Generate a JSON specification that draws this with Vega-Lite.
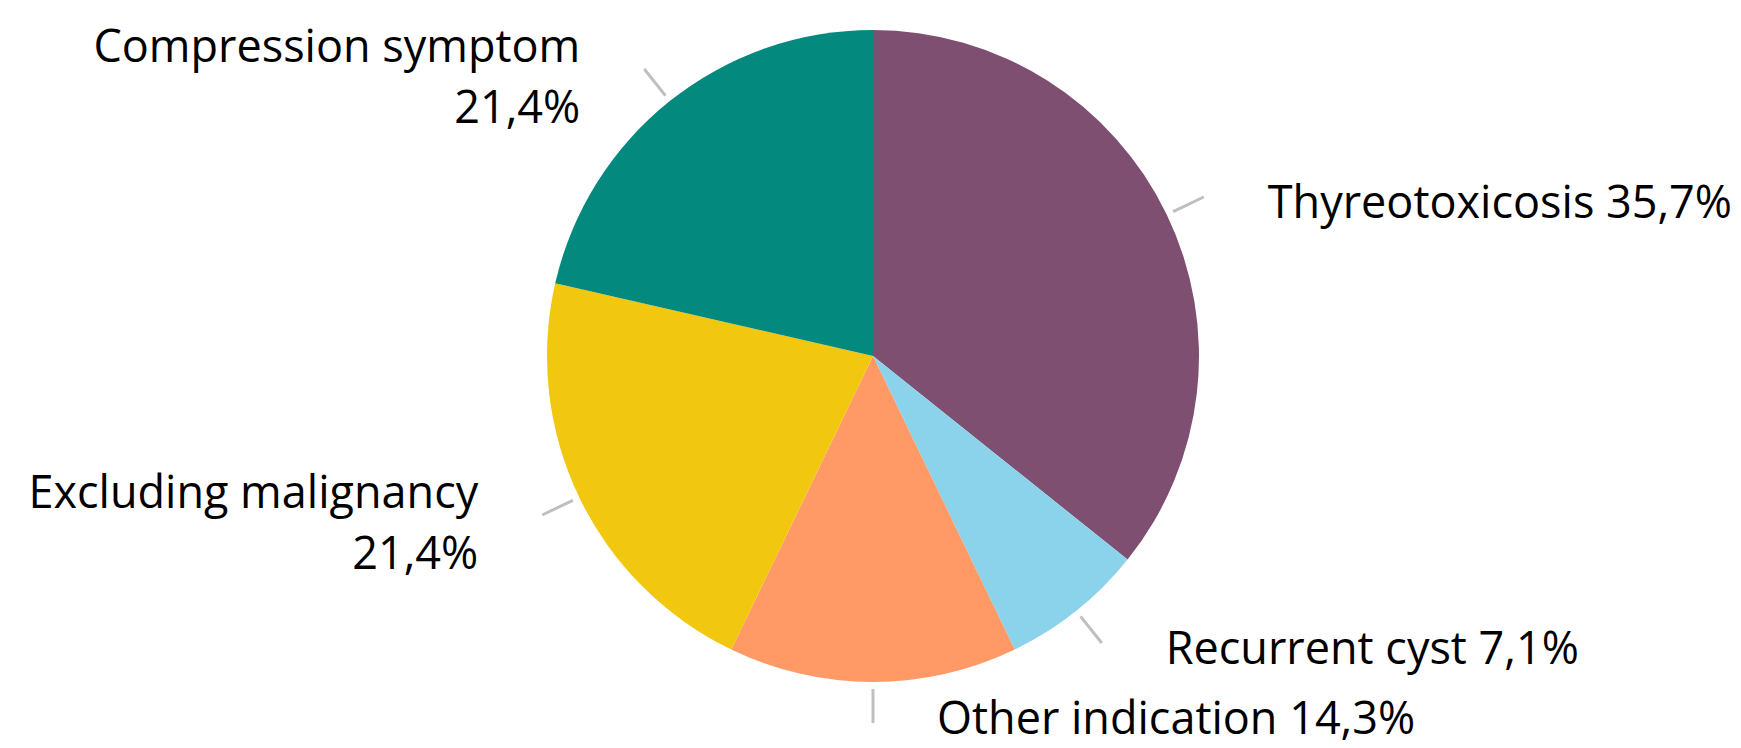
{
  "$schema": "https://vega.github.io/schema/vega-lite/v6.json",
  "width": 1736,
  "height": 712,
  "padding": {"left": 5, "top": 0, "right": 0, "bottom": 36},
  "autosize": "none",
  "background": "white",
  "config": {"view": {"stroke": null}},
  "data": {
    "values": [
      {"category": "Thyreotoxicosis", "value": 35.7, "label": "Thyreotoxicosis 35,7%"},
      {"category": "Recurrent cyst", "value": 7.1, "label": "Recurrent cyst 7,1%"},
      {"category": "Other indication", "value": 14.3, "label": "Other indication 14,3%"},
      {"category": "Excluding malignancy", "value": 21.4, "label": "Excluding malignancy\n21,4%"},
      {"category": "Compression symptom", "value": 21.4, "label": "Compression symptom\n21,4%"}
    ]
  },
  "transform": [{"window": [{"op": "row_number", "as": "rank"}]}],
  "encoding": {
    "theta": {"field": "value", "type": "quantitative", "stack": true},
    "order": {"field": "rank", "type": "quantitative"},
    "color": {
      "field": "category",
      "type": "nominal",
      "scale": {
        "domain": ["Thyreotoxicosis", "Recurrent cyst", "Other indication", "Excluding malignancy", "Compression symptom"],
        "range": ["#7E4F70", "#8AD3EA", "#FF9966", "#F1C80F", "#03897E"]
      },
      "legend": null
    }
  },
  "layer": [
    {"mark": {"type": "arc", "outerRadius": 326}},
    {
      "mark": {"type": "arc", "outerRadius": 367, "innerRadius": 333, "padAngle": 3.14159, "filled": false, "strokeWidth": 3},
      "encoding": {"color": {"value": "#BFBFBF"}}
    },
    {
      "mark": {"type": "text", "radius": 367, "align": "left", "baseline": "middle", "dx": 64, "dy": 7, "font": "Open Sans", "fontSize": 45, "lineBreak": "\n", "lineHeight": 61},
      "encoding": {
        "color": {"value": "#000000"},
        "text": {"condition": {"test": "datum.category === 'Thyreotoxicosis' || datum.category === 'Recurrent cyst'", "field": "label"}, "value": ""}
      }
    },
    {
      "mark": {"type": "text", "radius": 367, "align": "left", "baseline": "middle", "dx": 64, "dy": -3, "font": "Open Sans", "fontSize": 45, "lineBreak": "\n", "lineHeight": 61},
      "encoding": {
        "color": {"value": "#000000"},
        "text": {"condition": {"test": "datum.category === 'Other indication'", "field": "label"}, "value": ""}
      }
    },
    {
      "mark": {"type": "text", "radius": 367, "align": "right", "baseline": "middle", "dx": -64, "dy": -21, "font": "Open Sans", "fontSize": 45, "lineBreak": "\n", "lineHeight": 61},
      "encoding": {
        "color": {"value": "#000000"},
        "text": {"condition": {"test": "datum.category === 'Excluding malignancy' || datum.category === 'Compression symptom'", "field": "label"}, "value": ""}
      }
    }
  ]
}
